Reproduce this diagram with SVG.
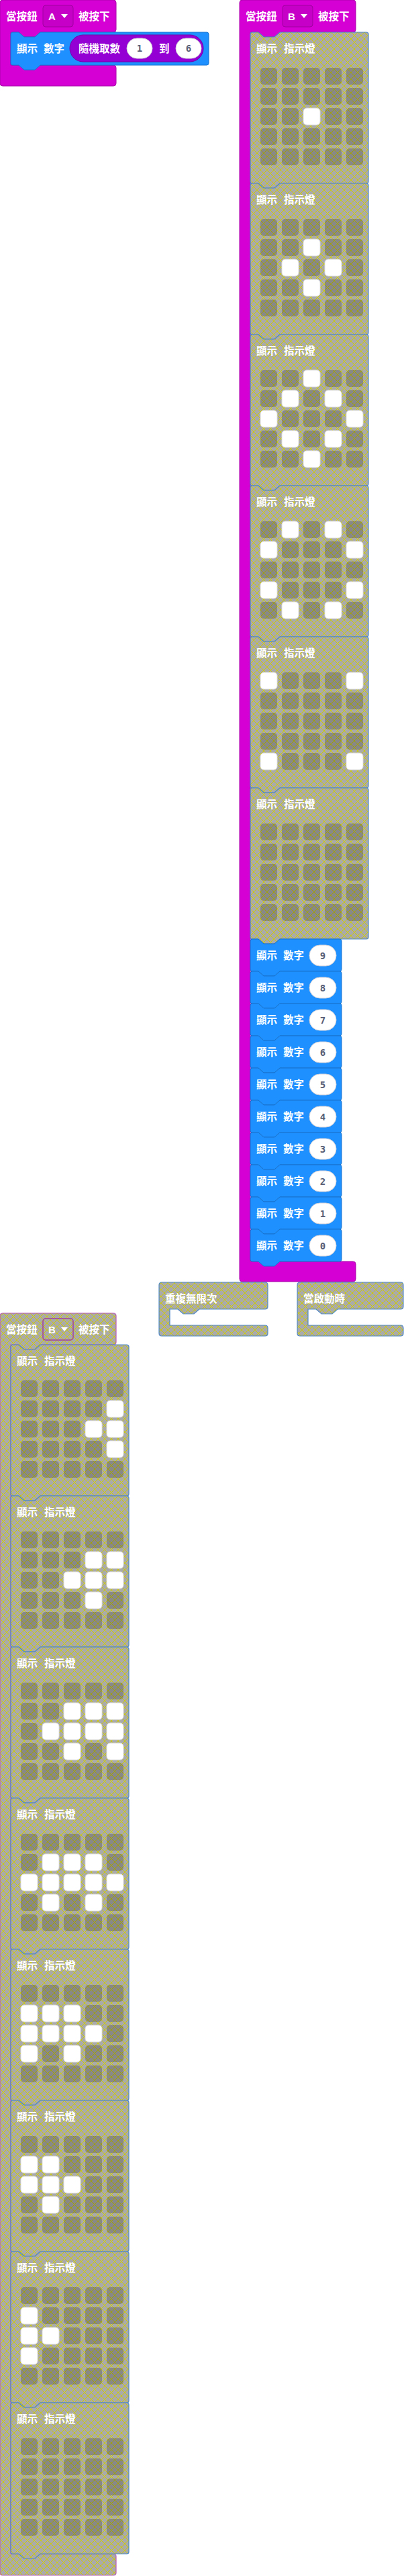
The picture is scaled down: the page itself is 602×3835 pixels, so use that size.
<svg xmlns="http://www.w3.org/2000/svg" xmlns:xlink="http://www.w3.org/1999/xlink" width="602" height="3835" viewBox="0 0 602 3835">
<style>
.t{font-family:"Noto Sans CJK TC","Noto Sans CJK SC",sans-serif;font-size:15.5px;font-weight:bold;fill:#fff}
.lt{font-family:"Liberation Sans",Arial,sans-serif;font-size:15px;font-weight:bold;fill:#fff}
.num{font-family:"DejaVu Sans Mono","Liberation Mono",monospace;font-size:14px;font-weight:bold;fill:#575E75;text-anchor:middle}
.hat{fill:#D400D4;stroke:#a900a9;stroke-width:1}
.blue{fill:#1E90FF;stroke:#1873d0;stroke-width:1}
.purple{fill:#9400D3;stroke:#7400a8;stroke-width:1}
.oval{fill:#fff;stroke:#d0d0d8;stroke-width:1}
.dis{fill:url(#dis);stroke:#4f88c6;stroke-width:1.2}
.dishat{fill:url(#dis);stroke:#b85cb8;stroke-width:1.2}
.dd{fill:#c600c6;stroke:#a000a0;stroke-width:1}
.dddis{fill:none;stroke:#a040a0;stroke-width:1.5}
.off{fill:#000;fill-opacity:0.2}
.on{fill:#fff;stroke:#dcdcdc;stroke-width:1}
</style>
<defs>
<pattern id="dis" patternUnits="userSpaceOnUse" width="10" height="10">
<rect width="10" height="10" fill="#aaa"/>
<path d="M0 0L10 10M10 0L0 10" stroke="#cc0" stroke-width="1"/>
</pattern>
<path id="ledShape" d="M3,0 H12 l8,7 h16 l8,-7 H173 q3,0 3,3 V222 q0,3 -3,3 H44 l-8,7 h-16 l-8,-7 H3 q-3,0 -3,-3 V3 q0,-3 3,-3 z"/>
<path id="numShape" d="M3,0 H12 l8,7 h16 l8,-7 H133 q3,0 3,3 V45 q0,3 -3,3 H44 l-8,7 h-16 l-8,-7 H3 q-3,0 -3,-3 V3 q0,-3 3,-3 z"/>
<rect id="on" class="on" width="25" height="25" rx="5"/>
<g id="grid">
<rect class="off" x="15" y="53" width="25" height="25" rx="5"/><rect class="off" x="47" y="53" width="25" height="25" rx="5"/><rect class="off" x="79" y="53" width="25" height="25" rx="5"/><rect class="off" x="111" y="53" width="25" height="25" rx="5"/><rect class="off" x="143" y="53" width="25" height="25" rx="5"/>
<rect class="off" x="15" y="83" width="25" height="25" rx="5"/><rect class="off" x="47" y="83" width="25" height="25" rx="5"/><rect class="off" x="79" y="83" width="25" height="25" rx="5"/><rect class="off" x="111" y="83" width="25" height="25" rx="5"/><rect class="off" x="143" y="83" width="25" height="25" rx="5"/>
<rect class="off" x="15" y="113" width="25" height="25" rx="5"/><rect class="off" x="47" y="113" width="25" height="25" rx="5"/><rect class="off" x="79" y="113" width="25" height="25" rx="5"/><rect class="off" x="111" y="113" width="25" height="25" rx="5"/><rect class="off" x="143" y="113" width="25" height="25" rx="5"/>
<rect class="off" x="15" y="143" width="25" height="25" rx="5"/><rect class="off" x="47" y="143" width="25" height="25" rx="5"/><rect class="off" x="79" y="143" width="25" height="25" rx="5"/><rect class="off" x="111" y="143" width="25" height="25" rx="5"/><rect class="off" x="143" y="143" width="25" height="25" rx="5"/>
<rect class="off" x="15" y="173" width="25" height="25" rx="5"/><rect class="off" x="47" y="173" width="25" height="25" rx="5"/><rect class="off" x="79" y="173" width="25" height="25" rx="5"/><rect class="off" x="111" y="173" width="25" height="25" rx="5"/><rect class="off" x="143" y="173" width="25" height="25" rx="5"/>
</g>
<g id="ledHead"><text class="t" x="9" y="30">顯示</text><text class="t" x="50" y="30">指示燈</text></g>
<g id="numHead"><text class="t" x="9" y="30">顯示</text><text class="t" x="49" y="30">數字</text><rect class="oval" x="88" y="9" width="40" height="31" rx="15.5"/></g>
</defs>
<rect width="602" height="3835" fill="#fff"/>
<g id="connectors"/>

<!-- Stack A -->
<g id="hatA">
<path class="hat" d="M4,0 H169 q4,0 4,4 V44 q0,4 -4,4 H60 l-8,7 h-16 l-8,-7 H16 V97 H169 q4,0 4,4 V124 q0,4 -4,4 H4 q-4,0 -4,-4 V4 q0,-4 4,-4 z"/>
<text class="t" x="9" y="30">當按鈕</text>
<rect class="dd" x="64" y="8" width="45" height="32" rx="4"/>
<text class="lt" x="72" y="30">A</text>
<path d="M91,21 h10 l-5,6 z" fill="#fff"/>
<text class="t" x="117" y="30">被按下</text>
</g>
<g id="showNumA">
<path class="blue" d="M19,48 H28 l8,7 h16 l8,-7 H308 q3,0 3,3 V94 q0,3 -3,3 H60 l-8,7 h-16 l-8,-7 H19 q-3,0 -3,-3 V51 q0,-3 3,-3 z"/>
<text class="t" x="25" y="78">顯示</text>
<text class="t" x="65" y="78">數字</text>
<rect class="purple" x="104" y="52" width="199" height="40" rx="20"/>
<text class="t" x="117" y="78">隨機取數</text>
<rect class="oval" x="189" y="57" width="38" height="30" rx="15"/>
<text class="num" x="208" y="77">1</text>
<text class="t" x="237" y="78">到</text>
<rect class="oval" x="262" y="57" width="38" height="30" rx="15"/>
<text class="num" x="281" y="77">6</text>
</g>

<!-- Stack B (right) -->
<g id="hatB">
<path class="hat" d="M361,0 H526 q4,0 4,4 V44 q0,4 -4,4 H417 l-8,7 h-16 l-8,-7 H373 V1878 H526 q4,0 4,4 V1904 q0,4 -4,4 H361 q-4,0 -4,-4 V4 q0,-4 4,-4 z"/>
<text class="t" x="366" y="30">當按鈕</text>
<rect class="dd" x="421" y="8" width="45" height="32" rx="4"/>
<text class="lt" x="429" y="30">B</text>
<path d="M448,21 h10 l-5,6 z" fill="#fff"/>
<text class="t" x="474" y="30">被按下</text>
</g>
<g id="ledR1" transform="translate(373,48)"><use href="#ledShape" class="dis"/><use href="#ledHead"/><use href="#grid"/>
<use href="#on" x="79" y="113"/></g>
<g id="ledR2" transform="translate(373,273)"><use href="#ledShape" class="dis"/><use href="#ledHead"/><use href="#grid"/>
<use href="#on" x="79" y="83"/><use href="#on" x="47" y="113"/><use href="#on" x="111" y="113"/><use href="#on" x="79" y="143"/></g>
<g id="ledR3" transform="translate(373,498)"><use href="#ledShape" class="dis"/><use href="#ledHead"/><use href="#grid"/>
<use href="#on" x="79" y="53"/><use href="#on" x="47" y="83"/><use href="#on" x="111" y="83"/><use href="#on" x="15" y="113"/><use href="#on" x="143" y="113"/><use href="#on" x="47" y="143"/><use href="#on" x="111" y="143"/><use href="#on" x="79" y="173"/></g>
<g id="ledR4" transform="translate(373,723)"><use href="#ledShape" class="dis"/><use href="#ledHead"/><use href="#grid"/>
<use href="#on" x="47" y="53"/><use href="#on" x="111" y="53"/><use href="#on" x="15" y="83"/><use href="#on" x="143" y="83"/><use href="#on" x="15" y="143"/><use href="#on" x="143" y="143"/><use href="#on" x="47" y="173"/><use href="#on" x="111" y="173"/></g>
<g id="ledR5" transform="translate(373,948)"><use href="#ledShape" class="dis"/><use href="#ledHead"/><use href="#grid"/>
<use href="#on" x="15" y="53"/><use href="#on" x="143" y="53"/><use href="#on" x="15" y="173"/><use href="#on" x="143" y="173"/></g>
<g id="ledR6" transform="translate(373,1173)"><use href="#ledShape" class="dis"/><use href="#ledHead"/><use href="#grid"/></g>
<g id="num9" transform="translate(373,1398)"><use href="#numShape" class="blue"/><use href="#numHead"/><text class="num" x="108" y="29.5">9</text></g>
<g id="num8" transform="translate(373,1446)"><use href="#numShape" class="blue"/><use href="#numHead"/><text class="num" x="108" y="29.5">8</text></g>
<g id="num7" transform="translate(373,1494)"><use href="#numShape" class="blue"/><use href="#numHead"/><text class="num" x="108" y="29.5">7</text></g>
<g id="num6" transform="translate(373,1542)"><use href="#numShape" class="blue"/><use href="#numHead"/><text class="num" x="108" y="29.5">6</text></g>
<g id="num5" transform="translate(373,1590)"><use href="#numShape" class="blue"/><use href="#numHead"/><text class="num" x="108" y="29.5">5</text></g>
<g id="num4" transform="translate(373,1638)"><use href="#numShape" class="blue"/><use href="#numHead"/><text class="num" x="108" y="29.5">4</text></g>
<g id="num3" transform="translate(373,1686)"><use href="#numShape" class="blue"/><use href="#numHead"/><text class="num" x="108" y="29.5">3</text></g>
<g id="num2" transform="translate(373,1734)"><use href="#numShape" class="blue"/><use href="#numHead"/><text class="num" x="108" y="29.5">2</text></g>
<g id="num1" transform="translate(373,1782)"><use href="#numShape" class="blue"/><use href="#numHead"/><text class="num" x="108" y="29.5">1</text></g>
<g id="num0" transform="translate(373,1830)"><use href="#numShape" class="blue"/><use href="#numHead"/><text class="num" x="108" y="29.5">0</text></g>

<!-- forever / on start -->
<g id="forever">
<path class="dis" d="M241,1909 H395 q4,0 4,4 V1945 q0,4 -4,4 H297 l-8,7 h-16 l-8,-7 H253 V1973 H395 q4,0 4,4 V1985 q0,4 -4,4 H241 q-4,0 -4,-4 V1913 q0,-4 4,-4 z"/>
<text class="t" x="246" y="1939">重複無限次</text>
</g>
<g id="onStart">
<path class="dis" d="M447,1909 H597 q4,0 4,4 V1945 q0,4 -4,4 H503 l-8,7 h-16 l-8,-7 H459 V1973 H597 q4,0 4,4 V1985 q0,4 -4,4 H447 q-4,0 -4,-4 V1913 q0,-4 4,-4 z"/>
<text class="t" x="452" y="1939">當啟動時</text>
</g>

<!-- Stack B (left, disabled) -->
<g id="hatB2">
<path class="dishat" d="M4,1955 H169 q4,0 4,4 V1998 q0,4 -4,4 H60 l-8,7 h-16 l-8,-7 H16 V3802 H169 q4,0 4,4 V3830 q0,4 -4,4 H4 q-4,0 -4,-4 V1959 q0,-4 4,-4 z"/>
<text class="t" x="9" y="1985">當按鈕</text>
<rect class="dddis" x="64" y="1963" width="45" height="32" rx="4"/>
<text class="lt" x="72" y="1985">B</text>
<path d="M91,1976 h10 l-5,6 z" fill="#fff"/>
<text class="t" x="117" y="1985">被按下</text>
</g>
<g id="ledL1" transform="translate(16,2002)"><use href="#ledShape" class="dis"/><use href="#ledHead"/><use href="#grid"/>
<use href="#on" x="143" y="83"/><use href="#on" x="111" y="113"/><use href="#on" x="143" y="113"/><use href="#on" x="143" y="143"/></g>
<g id="ledL2" transform="translate(16,2227)"><use href="#ledShape" class="dis"/><use href="#ledHead"/><use href="#grid"/>
<use href="#on" x="111" y="83"/><use href="#on" x="143" y="83"/><use href="#on" x="79" y="113"/><use href="#on" x="111" y="113"/><use href="#on" x="143" y="113"/><use href="#on" x="111" y="143"/></g>
<g id="ledL3" transform="translate(16,2452)"><use href="#ledShape" class="dis"/><use href="#ledHead"/><use href="#grid"/>
<use href="#on" x="79" y="83"/><use href="#on" x="111" y="83"/><use href="#on" x="143" y="83"/><use href="#on" x="47" y="113"/><use href="#on" x="79" y="113"/><use href="#on" x="111" y="113"/><use href="#on" x="143" y="113"/><use href="#on" x="79" y="143"/><use href="#on" x="143" y="143"/></g>
<g id="ledL4" transform="translate(16,2677)"><use href="#ledShape" class="dis"/><use href="#ledHead"/><use href="#grid"/>
<use href="#on" x="47" y="83"/><use href="#on" x="79" y="83"/><use href="#on" x="111" y="83"/><use href="#on" x="15" y="113"/><use href="#on" x="47" y="113"/><use href="#on" x="79" y="113"/><use href="#on" x="111" y="113"/><use href="#on" x="143" y="113"/><use href="#on" x="47" y="143"/><use href="#on" x="111" y="143"/></g>
<g id="ledL5" transform="translate(16,2902)"><use href="#ledShape" class="dis"/><use href="#ledHead"/><use href="#grid"/>
<use href="#on" x="15" y="83"/><use href="#on" x="47" y="83"/><use href="#on" x="79" y="83"/><use href="#on" x="15" y="113"/><use href="#on" x="47" y="113"/><use href="#on" x="79" y="113"/><use href="#on" x="111" y="113"/><use href="#on" x="15" y="143"/><use href="#on" x="79" y="143"/></g>
<g id="ledL6" transform="translate(16,3127)"><use href="#ledShape" class="dis"/><use href="#ledHead"/><use href="#grid"/>
<use href="#on" x="15" y="83"/><use href="#on" x="47" y="83"/><use href="#on" x="15" y="113"/><use href="#on" x="47" y="113"/><use href="#on" x="79" y="113"/><use href="#on" x="47" y="143"/></g>
<g id="ledL7" transform="translate(16,3352)"><use href="#ledShape" class="dis"/><use href="#ledHead"/><use href="#grid"/>
<use href="#on" x="15" y="83"/><use href="#on" x="15" y="113"/><use href="#on" x="47" y="113"/><use href="#on" x="15" y="143"/></g>
<g id="ledL8" transform="translate(16,3577)"><use href="#ledShape" class="dis"/><use href="#ledHead"/><use href="#grid"/></g>
</svg>
